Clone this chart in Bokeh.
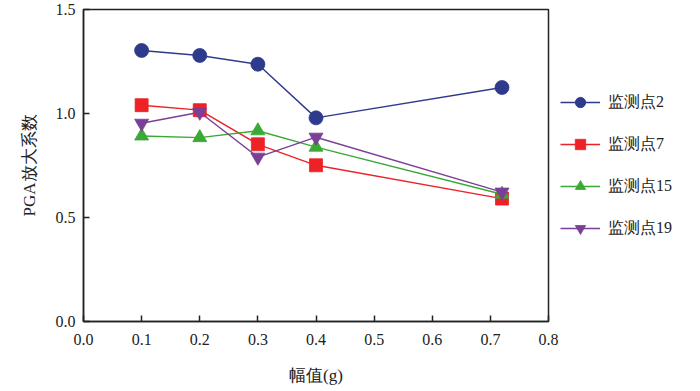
from bokeh.plotting import figure
from bokeh.models import Range1d, Legend, LegendItem, FixedTicker, NumeralTickFormatter
from bokeh.embed import file_html
from bokeh.resources import INLINE

x_vals = [0.1, 0.2, 0.3, 0.4, 0.72]
s2 = [1.303, 1.279, 1.237, 0.979, 1.125]
s7 = [1.040, 1.016, 0.852, 0.751, 0.591]
s15 = [0.892, 0.884, 0.917, 0.838, 0.612]
s19 = [0.953, 1.006, 0.790, 0.886, 0.622]
names = ["监测点2", "监测点7", "监测点15", "监测点19"]
x_ticks = [0.0, 0.1, 0.2, 0.3, 0.4, 0.5, 0.6, 0.7, 0.8]
y_ticks = [0.0, 0.5, 1.0, 1.5]

FONT = "Liberation Serif"

p = figure(frame_width=465, frame_height=312, output_backend="svg", toolbar_location=None,
           x_range=Range1d(0, 0.8), y_range=Range1d(0, 1.5),
           min_border_left=83, min_border_right=0, min_border_top=9, min_border_bottom=0)
p.grid.visible = False
p.outline_line_color = "#222222"
p.outline_line_width = 1.5
p.background_fill_color = "white"
p.border_fill_color = "white"

for ax in (p.xaxis[0], p.yaxis[0]):
    ax.major_tick_in = 6
    ax.major_tick_out = 0
    ax.minor_tick_line_color = None
    ax.axis_line_color = "#222222"
    ax.axis_line_width = 1.5
    ax.major_tick_line_color = "#222222"
    ax.major_tick_line_width = 1.5
    ax.major_label_text_font = FONT
    ax.major_label_text_font_size = "16px"
    ax.major_label_text_color = "#222222"
    ax.axis_label_text_font = FONT
    ax.axis_label_text_font_size = "17px"
    ax.axis_label_text_font_style = "normal"
    ax.axis_label_text_color = "#222222"
    ax.formatter = NumeralTickFormatter(format="0.0")

p.xaxis.ticker = FixedTicker(ticks=x_ticks)
p.yaxis.ticker = FixedTicker(ticks=y_ticks)
p.xaxis.axis_label = "幅值(g)"
p.yaxis.axis_label = "PGA放大系数"
p.xaxis.major_label_standoff = 12
p.xaxis.axis_label_standoff = 18
p.yaxis.major_label_standoff = 8
p.yaxis.axis_label_standoff = 14

colors = ["#2e3a8c", "#ec2227", "#3aa935", "#7a3f96"]
series = [s2, s7, s15, s19]
markers = ["circle", "square", "triangle", "inverted_triangle"]
sizes = [14, 13, 14, 14]
items = []
for name, ys, c, m, sz in zip(names, series, colors, markers, sizes):
    ln = p.line(x_vals, ys, line_color=c, line_width=1.4)
    sc = p.scatter(x_vals, ys, marker=m, size=sz, fill_color=c, line_color=c, line_width=0.8)
    items.append(LegendItem(label=name, renderers=[ln, sc]))

legend = Legend(items=items, location="center_left", orientation="vertical",
                glyph_width=40, glyph_height=26, label_height=26, spacing=16,
                label_standoff=8, padding=0, margin=12,
                border_line_color=None, background_fill_alpha=0,
                label_text_font=FONT, label_text_font_size="16px",
                label_text_color="#222222")
p.add_layout(legend, "right")

open("out.html", "w").write(file_html(p, INLINE))
